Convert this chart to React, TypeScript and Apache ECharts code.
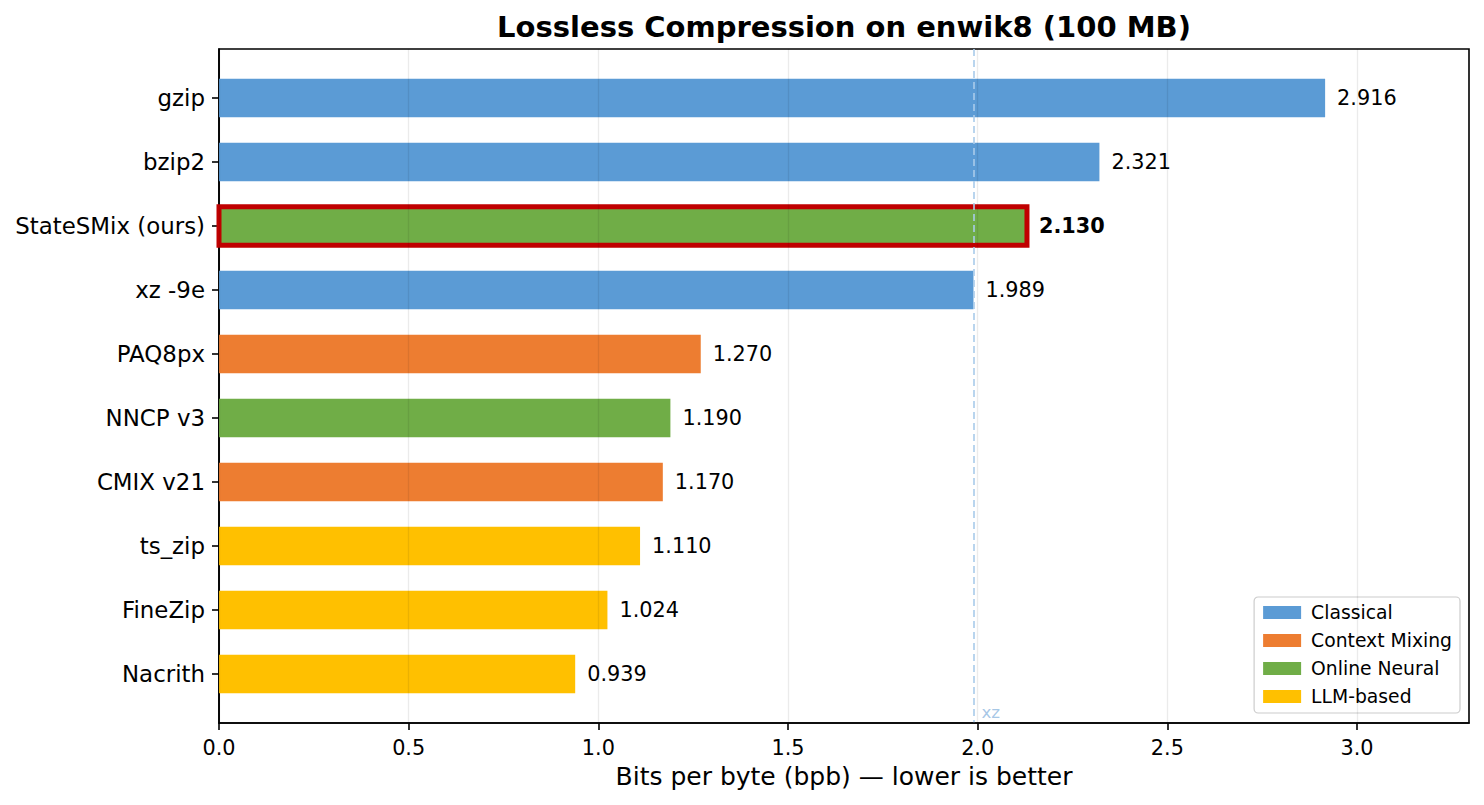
import React, { useEffect, useRef } from "react";
import * as echarts from "echarts";

const categories = ["gzip", "bzip2", "StateSMix (ours)", "xz -9e", "PAQ8px", "NNCP v3", "CMIX v21", "ts_zip", "FineZip", "Nacrith"];
const values = [2.916, 2.321, 2.13, 1.989, 1.27, 1.19, 1.17, 1.11, 1.024, 0.939];
const groups = ["Classical", "Classical", "Online Neural", "Classical", "Context Mixing", "Online Neural", "Context Mixing", "LLM-based", "LLM-based", "LLM-based"];
const groupNames = ["Classical", "Context Mixing", "Online Neural", "LLM-based"];
const groupColors = ["#5b9bd5", "#ed7d31", "#70ad47", "#ffc000"];
const highlight = "StateSMix (ours)";
const xTicks = [0, 0.5, 1.0, 1.5, 2.0, 2.5, 3.0];
const xzRef = 1.989;
const xzLabelPos = 9.59;

const FONT = '"DejaVu Sans", sans-serif';

export default function App() {
  const ref = useRef<HTMLDivElement>(null);
  useEffect(() => {
    document.body.style.margin = "0";
    const chart = echarts.init(ref.current!, null, { renderer: "svg" });
    const catIdx = categories.map((_, i) => i);

    const barSeries = groupNames.map((g, gi) => ({
      type: "custom",
      name: g,
      z: 2,
      itemStyle: { color: groupColors[gi] },
      encode: { x: 0, y: 1 },
      data: catIdx.filter((i) => groups[i] === g).map((i) => [values[i], i]),
      renderItem: (params: any, api: any) => {
        const v = api.value(0);
        const idx = api.value(1);
        const start = api.coord([0, idx]);
        const end = api.coord([v, idx]);
        const h = api.size([0, 0.6])[1];
        const isHi = categories[idx] === highlight;
        return {
          type: "group",
          children: [
            {
              type: "rect",
              shape: { x: start[0], y: start[1] - h / 2, width: end[0] - start[0], height: h },
              style: {
                fill: groupColors[gi],
                stroke: isHi ? "#c00000" : null,
                lineWidth: isHi ? 5 : 0,
              },
            },
            {
              type: "text",
              x: end[0] + 12,
              y: end[1],
              style: {
                text: v.toFixed(3),
                fill: "#000",
                font: `${isHi ? "bold " : ""}20.8px ${FONT}`,
                verticalAlign: "middle",
                align: "left",
              },
            },
          ],
        };
      },
    }));

    const option: any = {
      animation: false,
      backgroundColor: "#fff",
      title: {
        text: "Lossless Compression on enwik8 (100 MB)",
        left: 844,
        top: 12,
        textAlign: "center",
        padding: 0,
        textStyle: { fontSize: 29, fontWeight: "bold", fontFamily: FONT, color: "#000" },
      },
      legend: {
        orient: "vertical",
        right: 24,
        bottom: 92,
        data: groupNames,
        icon: "rect",
        itemWidth: 38,
        itemHeight: 13,
        itemGap: 9,
        padding: [6, 8, 7, 9],
        backgroundColor: "#fff",
        borderColor: "#cccccc",
        borderWidth: 1.2,
        borderRadius: 4,
        textStyle: { fontSize: 18.75, lineHeight: 19, fontFamily: FONT, color: "#000", padding: [0, 0, 0, 5] },
      },
      grid: {
        left: 219,
        right: 15,
        top: 49,
        bottom: 82,
        show: true,
        borderColor: "#000",
        borderWidth: 1.6,
        containLabel: false,
      },
      xAxis: {
        type: "value",
        min: 0,
        max: 3.2953,
        interval: 0.5,
        z: 5,
        name: "Bits per byte (bpb) — lower is better",
        nameLocation: "middle",
        nameGap: 41,
        nameTextStyle: { fontSize: 25, fontFamily: FONT, color: "#000", verticalAlign: "top" },
        axisLine: { show: true, onZero: false, lineStyle: { color: "#000", width: 1.6 } },
        axisTick: { show: true, length: 7, lineStyle: { color: "#000", width: 1.6 }, customValues: xTicks },
        axisLabel: {
          customValues: xTicks,
          margin: 14,
          fontSize: 20.8,
          fontFamily: FONT,
          color: "#000",
          formatter: (v: number) => v.toFixed(1),
        },
        splitLine: { show: true, lineStyle: { color: "rgba(0,0,0,0.08)", width: 1.3 } },
      },
      yAxis: {
        type: "value",
        inverse: true,
        min: -0.766,
        max: 9.766,
        axisLine: { show: true, onZero: false, lineStyle: { color: "#000", width: 1.6 } },
        axisTick: { show: true, length: 7, lineStyle: { color: "#000", width: 1.6 }, customValues: catIdx },
        axisLabel: {
          customValues: catIdx,
          margin: 14,
          fontSize: 22.9,
          fontFamily: FONT,
          color: "#000",
          formatter: (v: number) => categories[Math.round(v)] ?? "",
        },
        splitLine: { show: false },
      },
      series: [
        ...barSeries,
        {
          type: "scatter",
          name: "xz-ref",
          z: 6,
          symbolSize: 0,
          silent: true,
          data: [[xzRef, xzLabelPos]],
          label: {
            show: true,
            position: "right",
            distance: 8,
            formatter: "xz",
            fontSize: 16.7,
            fontFamily: FONT,
            color: "#8fb8e0",
          },
          markLine: {
            symbol: "none",
            silent: true,
            label: { show: false },
            lineStyle: { color: "#a9cbea", width: 1.6, type: [7, 4] },
            data: [{ xAxis: xzRef }],
          },
        },
      ],
    };
    chart.setOption(option);
    return () => chart.dispose();
  }, []);
  return <div ref={ref} style={{ width: 1484, height: 805 }} />;
}
